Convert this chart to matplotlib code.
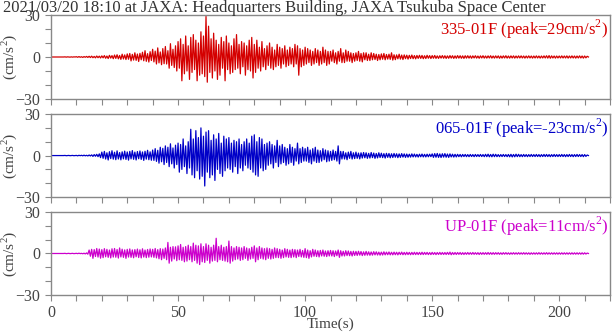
import numpy as np
import matplotlib
matplotlib.use("Agg")
import matplotlib.pyplot as plt
from matplotlib.ticker import MultipleLocator

# 0.5秒ごとに読み取った加速度 (cm/s^2)
dt = 0.5
ns_335 = [
    0, 0, 0, 0, 0, 0, 0, 0, 0, 0,
    0, 0.1, -0.1, 0.1, 0, -0.1, 0.1, -0.1, 0.1, 0,
    0.2, -0.2, 0.3, -0.2, 0.2, -0.3, 0.3, -0.2, 0.4, -0.3,
    0.5, -0.4, 0.6, -0.5, 0.4, -0.6, 0.7, -0.5, 0.6, -0.7,
    0.8, -0.6, 1, -0.9, 0.7, -1.1, 1.2, -0.8, 1, -1.2,
    1.4, -1, 1.6, -1.3, 1.1, -1.7, 2, -1.4, 1.5, -1.8,
    2.2, -1.6, 2.5, -2.8, 1.9, -2.2, 3, -2.4, 2.1, -3.2,
    2.6, -2, 3.4, -2.7, 4.5, -3.1, 2.4, -3.6, 3.8, -2.5,
    5.5, -3.5, 4.2, -5, 6.5, -4.2, 3.6, -5.5, 6, -4.8,
    7.5, -5, 4.5, -8, 9.5, -6, 5.5, -7.5, 8, -10,
    11, -8, 13, -17, 9, -12, 15, -10, 8, -16,
    14, -11, 16, -9, 12, -17, 10, -13, 18, -12,
    15, -14, 29, -18, 22, -11, 13, -15, 17, -10,
    12, -16, 9, -13, 14, -8, 11, -17, 15, -9,
    10, -12, 8, -11, 13, -9, 16, -8, 9, -12,
    11, -7, 10, -13, 8, -9, 12, -10, 14, -15,
    9, -11, 12, -8, 7, -10, 11, -7, 6, -9,
    8, -6, 10, -8, 7, -9, 5, -7, 9, -6,
    7, -8, 6, -5, 8, -7, 5, -6, 7, -5,
    6, -7, 9, -5, 8, -13, 6, -7, 5, -6,
    7, -5, 6, -4, 5, -6, 4, -5, 6, -4,
    5, -6, 4, -5, 7, -4, 5, -6, 4, -5,
    4, -3, 5, -4, 3, -5, 4, -3, 6, -4,
    3, -4, 5, -3, 4, -3, 3, -4, 2.5, -3,
    3, -2.5, 4, -3, 2.5, -3.5, 3, -2, 3, -2.5,
    2, -2.5, 3, -2, 2.5, -1.8, 2, -2.5, 1.8, -2,
    2.2, -1.6, 2.5, -2, 1.8, -1.5, 2, -1.7, 3, -2.2,
    1.6, -1.9, 1.5, -1.3, 2, -1.5, 1.4, -1.8, 1.5, -1.2,
    1.3, -1.5, 1.2, -1.1, 1.4, -1.2, 1, -1.3, 1.1, -1,
    1.2, -1, 1.1, -1.2, 0.9, -1.1, 1.2, -0.9, 1, -1.1,
    1, -0.9, 1.1, -1, 0.8, -1, 0.9, -0.8, 1, -0.9,
    0.9, -1, 0.8, -0.9, 1, -0.8, 0.9, -1, 0.8, -0.9,
    1, -0.8, 0.9, -0.9, 0.8, -1, 0.9, -0.8, 0.9, -0.8,
    0.8, -0.9, 0.8, -0.7, 0.9, -0.8, 0.7, -0.9, 0.8, -0.7,
    0.9, -0.8, 0.7, -0.8, 0.8, -0.7, 0.9, -0.8, 0.7, -0.8,
    0.8, -0.7, 0.8, -0.9, 0.7, -0.8, 0.8, -0.7, 0.9, -0.8,
    0.7, -0.8, 0.8, -0.7, 0.8, -0.8, 0.7, -0.7, 0.8, -0.7,
    0.8, -0.7, 0.7, -0.8, 0.7, -0.7, 0.8, -0.7, 0.7, -0.8,
    0.7, -0.7, 0.8, -0.7, 0.7, -0.8, 0.7, -0.7, 0.8, -0.7,
    0.9, -0.8, 1, -0.9, 0.8, -0.7, 0.7, -0.8, 0.7, -0.7,
    0.7, -0.7, 0.8, -0.7, 0.7, -0.7, 0.8, -0.8, 0.7, -0.7,
    0.8, -0.7, 0.7, -0.8, 0.7, -0.7, 0.8, -0.7, 0.7, -0.8,
    0.7, -0.6, 0.5, 0,
]
ew_065 = [
    0, 0, 0, 0, 0, 0, 0, 0, 0, 0,
    0, 0.1, -0.1, 0, 0.1, -0.1, 0, 0.1, -0.1, 0,
    0.1, -0.2, 0.2, -0.1, 0.2, -0.2, 0.3, -0.2, 0.2, -0.3,
    0.4, -0.3, 0.5, -0.6, 0.7, -0.5, 0.9, -0.8, 1.2, -1.5,
    2.5, -2, 3, -2.5, 2, -3.2, 2.8, -2.2, 3.5, -2.6,
    2.4, -3, 3.4, -2.5, 2.2, -3.1, 2.7, -2.4, 3.2, -2.8,
    2.6, -3.3, 3, -2.4, 3.6, -2.7, 2.5, -3.2, 2.9, -2.3,
    3.3, -2.8, 2.6, -3.5, 3.1, -2.6, 3.8, -3, 2.7, -3.4,
    4, -3.5, 5, -4.2, 3.8, -5.5, 6, -4.5, 5.2, -6.5,
    7, -5, 6, -8, 8.5, -6, 5.5, -9, 7.5, -6.5,
    9, -12, 8, -10, 12, -8, 7, -13, 10, -9,
    19, -14, 12, -16, 18, -11, 13, -17, 20, -15,
    14, -22, 17, -12, 18, -16, 11, -14, 15, -18,
    12, -10, 16, -13, 9, -15, 14, -11, 12, -9,
    13, -10, 9, -12, 11, -8, 10, -13, 12, -9,
    8, -11, 10, -7, 12, -9, 9, -10, 14, -12,
    15, -14, 10, -15, 13, -9, 12, -11, 8, -10,
    9, -7, 10, -6, 8, -9, 7, -5, 11, -8,
    7, -6, 8, -5, 6, -7, 5, -6, 8, -5,
    6, -7, 5, -4, 9, -6, 5, -5, 6, -4,
    5, -4, 6, -5, 4, -6, 5, -4, 6, -5,
    4, -5, 3.5, -4, 5, -3, 4, -4.5, 3.5, -4,
    3, -3.5, 4, -3, 3, -4, 7, -6, 3, -2.5,
    3, -2.5, 2, -3, 2.5, -2, 3, -2.5, 2, -2.2,
    2.5, -2, 1.8, -2.4, 2, -1.8, 2.2, -1.6, 2, -2,
    1.6, -1.8, 2.2, -1.5, 1.8, -2, 1.5, -1.7, 2, -1.4,
    1.7, -1.5, 1.4, -1.8, 1.6, -1.3, 1.5, -1.6, 1.3, -1.4,
    1.5, -1.2, 1.3, -1.5, 1.2, -1.3, 1.4, -1.1, 1.2, -1.3,
    1.1, -1.2, 1, -1.1, 1.2, -1, 1.1, -1, 0.9, -1.1,
    1, -0.9, 1.1, -1, 0.9, -1, 1, -0.9, 1, -0.8,
    1.2, -1.3, 1.4, -1.2, 1.5, -1.3, 1.2, -1.4, 1.3, -1.1,
    1.4, -1.2, 1.1, -1.3, 1.2, -1, 1, -1.1, 0.9, -1,
    0.9, -0.8, 0.8, -0.9, 0.8, -0.7, 0.8, -0.8, 0.7, -0.8,
    0.8, -0.7, 0.7, -0.8, 0.8, -0.7, 0.7, -0.7, 0.8, -0.7,
    0.7, -0.8, 0.9, -0.8, 1, -0.9, 0.8, -0.9, 1, -0.8,
    0.9, -0.8, 0.7, -0.8, 0.7, -0.7, 0.8, -0.7, 0.7, -0.8,
    0.8, -0.9, 0.9, -1, 0.8, -0.9, 1, -0.8, 0.9, -0.8,
    0.7, -0.8, 0.8, -0.7, 0.7, -0.8, 0.7, -0.7, 0.8, -0.7,
    0.7, -0.7, 0.8, -0.7, 0.7, -0.8, 0.7, -0.7, 0.8, -0.7,
    0.8, -0.7, 0.7, -0.8, 0.7, -0.7, 0.8, -0.7, 0.7, -0.7,
    0.7, -0.7, 0.8, -0.7, 0.7, -0.8, 0.7, -0.7, 0.8, -0.7,
    0.7, -0.8, 0.7, -0.7, 0.8, -0.7, 0.7, -0.7, 0.7, -0.8,
    0.7, -0.6, 0.4, 0,
]
ud_up = [
    0, 0, 0, 0, 0, 0, 0, 0, 0, 0,
    0, 0.1, -0.1, 0, 0.1, -0.1, 0, 0.1, -0.1, 0,
    0.1, -0.1, 0.2, -0.1, 0.1, -0.2, 0.2, -0.3, 0.4, -0.5,
    2.5, -2, 3, -3.5, 2.8, -2.2, 3.6, -2.6, 3.2, -3.4,
    2.8, -3, 3.5, -2.4, 3, -2.8, 2.5, -3.2, 3.4, -2.6,
    3.6, -2.7, 2.9, -3.3, 4, -2.5, 3.1, -2.8, 2.6, -3.5,
    3, -2.6, 3.3, -2.8, 2.6, -3.1, 2.8, -2.4, 3.2, -2.9,
    2.7, -3.2, 3.4, -2.6, 2.5, -3, 2.9, -2.7, 3.3, -2.5,
    3, -2.8, 3.6, -3.2, 2.8, -3.8, 3.5, -4.5, 3.2, -3.5,
    4, -4.5, 8, -7, 4.5, -5.5, 5, -4, 4.8, -5.2,
    5.5, -4.5, 6.5, -5, 4.5, -6, 5, -5.5, 6, -4.5,
    5, -6, 7.5, -5, 6, -7, 5.5, -8, 7, -6,
    5, -6.5, 7, -5, 6, -7, 4.5, -5.5, 6, -5,
    11, -6, 5, -4.5, 6, -5, 4.5, -5.5, 5, -6,
    9, -7, 5, -5.5, 4, -4.5, 5, -4, 4.5, -5,
    4, -4.5, 5, -3.5, 4, -5, 3.5, -4, 4.5, -3.5,
    5.5, -6, 4, -4.5, 5, -3.5, 4, -4, 3.5, -4.5,
    4, -3.5, 3.5, -4, 3, -3.5, 4, -3, 3.5, -3,
    3, -3.5, 2.5, -3, 3.5, -2.5, 3, -2.8, 2.5, -3,
    3, -2.5, 2.8, -3, 2.5, -2.2, 3, -2.5, 2.2, -2.8,
    3.5, -3, 2.5, -3.5, 2, -2.5, 3, -2, 2.5, -2.2,
    2, -2.5, 2.2, -1.8, 2.5, -2, 1.8, -2.2, 2, -1.8,
    2.2, -1.8, 2, -2.2, 1.8, -1.6, 2.5, -2.8, 2, -1.8,
    1.6, -1.8, 2, -1.5, 1.8, -1.6, 1.5, -1.8, 1.6, -1.4,
    1.5, -1.4, 1.6, -1.2, 1.4, -1.5, 1.2, -1.3, 1.5, -1.2,
    1.2, -1.3, 1.1, -1.2, 1.3, -1, 1.2, -1.1, 1, -1.2,
    1, -1.1, 1.2, -1, 1, -0.9, 1.1, -1, 0.9, -1,
    1, -0.9, 0.9, -1, 0.9, -0.8, 1, -0.9, 0.8, -0.9,
    0.9, -0.8, 0.8, -0.9, 0.8, -0.8, 0.9, -0.8, 0.8, -0.8,
    0.8, -0.8, 0.9, -0.8, 0.8, -0.7, 0.8, -0.8, 0.7, -0.8,
    0.8, -0.7, 0.7, -0.8, 0.7, -0.7, 0.8, -0.7, 0.7, -0.7,
    0.7, -0.7, 0.8, -0.7, 1, -0.9, 0.7, -0.7, 0.7, -0.7,
    0.7, -0.6, 0.7, -0.7, 0.6, -0.7, 0.6, -0.6, 0.7, -0.6,
    0.6, -0.6, 0.7, -0.6, 0.6, -0.6, 0.6, -0.7, 0.6, -0.6,
    0.6, -0.6, 0.6, -0.6, 0.7, -0.6, 0.6, -0.6, 0.6, -0.6,
    0.6, -0.5, 0.6, -0.6, 0.5, -0.6, 0.6, -0.5, 0.6, -0.5,
    0.5, -0.6, 0.5, -0.5, 0.6, -0.5, 0.5, -0.5, 0.6, -0.5,
    0.5, -0.5, 0.6, -0.5, 0.5, -0.5, 0.5, -0.6, 0.5, -0.5,
    0.5, -0.5, 0.5, -0.5, 0.6, -0.5, 0.5, -0.5, 0.5, -0.5,
    0.6, -0.5, 0.5, -0.5, 0.5, -0.5, 0.5, -0.5, 0.5, -0.5,
    0.5, -0.5, 0.5, -0.5, 0.5, -0.5, 0.5, -0.5, 0.5, -0.5,
    0.5, -0.5, 0.5, -0.5, 0.5, -0.5, 0.5, -0.5, 0.5, -0.5,
    0.5, -0.4, 0.3, 0,
]

traces = [ns_335, ew_065, ud_up]
labels = ["335-01F (peak=29cm/s$^{2}$)", "065-01F (peak=-23cm/s$^{2}$)", "UP-01F (peak=11cm/s$^{2}$)"]
colors = ["#d40000", "#0000c8", "#cc00cc"]
title = "2021/03/20 18:10 at JAXA: Headquarters Building, JAXA Tsukuba Space Center"

plt.rcParams["font.family"] = ["Liberation Serif", "DejaVu Serif"]
plt.rcParams["mathtext.fontset"] = "custom"
plt.rcParams["mathtext.rm"] = "Liberation Serif"

fig = plt.figure(figsize=(6.13, 3.34), dpi=100)
bottoms = [0.7036, 0.410, 0.1168]
heights = [0.2515, 0.2485, 0.2485]
gray = "#888888"
txt = "#444444"

for i in range(3):
    ax = fig.add_axes([0.0832, bottoms[i], 0.912, heights[i]])
    y = np.array(traces[i])
    t = np.arange(len(y)) * dt
    ax.plot(t, y, color=colors[i], lw=0.9)
    ax.set_xlim(0, 220)
    ax.set_ylim(-30, 30)
    ax.xaxis.set_major_locator(MultipleLocator(50))
    ax.xaxis.set_minor_locator(MultipleLocator(10))
    ax.yaxis.set_major_locator(MultipleLocator(30))
    ax.yaxis.set_minor_locator(MultipleLocator(10))
    ax.tick_params(which="both", direction="out", length=4, width=0.8, color=gray,
                   labelcolor=txt, labelsize=11.5, pad=4)
    ax.tick_params(axis="x", pad=3)
    for s in ax.spines.values():
        s.set_color(gray)
        s.set_linewidth(1)
    if i < 2:
        ax.tick_params(axis="x", labelbottom=False)
    ax.set_ylabel("(cm/s$^{2}$)", color=txt, fontsize=11)
    ax.yaxis.set_label_coords(-0.058, 0.5)
    ax.text(0.997, 0.97, labels[i], transform=ax.transAxes, ha="right", va="top",
            color=colors[i], fontsize=12)
    if i == 2:
        ax.set_xlabel("Time(s)", color=txt, fontsize=11, labelpad=-2)

fig.text(0.005, 1.0, title, ha="left", va="top", color="#333333", fontsize=12)

plt.savefig("out.png", dpi=100)
